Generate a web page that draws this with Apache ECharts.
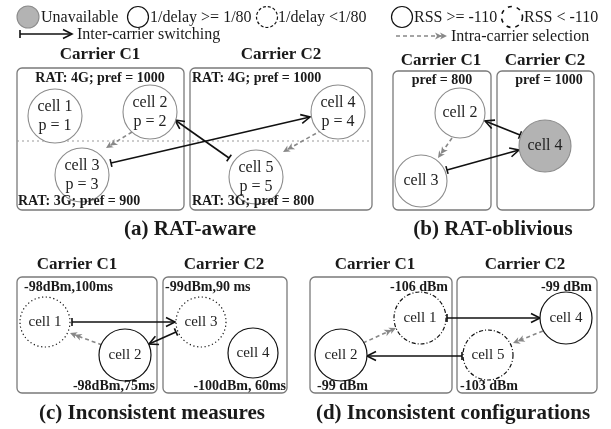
<!DOCTYPE html>
<html>
<head>
<meta charset="utf-8">
<script src="https://cdn.jsdelivr.net/npm/echarts@6/dist/echarts.min.js"></script>
<style>
html, body { margin: 0; padding: 0; background: #fff; }
#main { width: 611px; height: 429px; }
</style>
</head>
<body>
<div id="main"></div>
<script>
// cells: [x, y, radius, label, kind]
var legendCells = [
    [28, 17, 11, '', 'unavail'],
    [138, 17, 10.5, '', 'solid'],
    [267, 17, 10.5, '', 'dashed'],
    [402, 17, 10.5, '', 'solid'],
    [512, 17, 10.5, '', 'dashwide']
];
var cellsA = [
    [55, 116, 27, 'cell 1\np = 1', 'gray'],
    [150, 112, 27, 'cell 2\np = 2', 'gray'],
    [82, 175, 27, 'cell 3\np = 3', 'gray'],
    [338, 112, 27, 'cell 4\np = 4', 'gray'],
    [256, 177, 27, 'cell 5\np = 5', 'gray']
];
var cellsB = [
    [460, 113, 25, 'cell 2', 'gray'],
    [421, 181, 26, 'cell 3', 'gray'],
    [545, 146, 26, 'cell 4', 'unavail']
];
var cellsC = [
    [45, 322, 25, 'cell 1', 'dotted'],
    [125, 355, 26, 'cell 2', 'solid'],
    [201, 322, 25, 'cell 3', 'dotted'],
    [253, 353, 25, 'cell 4', 'solid']
];
var cellsD = [
    [420, 318, 26, 'cell 1', 'dashdot'],
    [341, 355, 26, 'cell 2', 'solid'],
    [566, 318, 26, 'cell 4', 'solid'],
    [488, 355, 25, 'cell 5', 'dashdot']
];

// edges: [x1, y1, x2, y2, kind]
var legendEdges = [
    [20, 34, 72, 34, 'switch'],
    [396, 36, 447, 36, 'select']
];
var edgesA = [
    [17, 141, 372, 141, 'divider'],
    [229, 158, 175, 120, 'switch'],
    [111, 163, 310, 117, 'switch'],
    [132, 132, 106, 148, 'select'],
    [322, 130, 283, 152, 'select']
];
var edgesB = [
    [520, 135, 485, 121, 'switch'],
    [447, 170, 519, 150, 'switch'],
    [452, 138, 438, 158, 'select']
];
var edgesC = [
    [72, 322, 175, 322, 'switch'],
    [176, 332, 149, 344, 'switch'],
    [102, 345, 70, 333, 'select']
];
var edgesD = [
    [447, 318, 540, 318, 'switch'],
    [462, 356, 367, 356, 'switch'],
    [363, 343, 396, 328, 'select'],
    [543, 331, 513, 343, 'select']
];

// carrier boxes: [x1, y1, x2, y2]
var boxes = [
    [17, 68, 184, 210], [190, 68, 372, 210],
    [393, 71, 491, 210], [497, 71, 594, 210],
    [17, 277, 157, 393], [163, 277, 287, 393],
    [310, 277, 452, 393], [457, 277, 597, 393]
];

// texts: [x, y, text, style, align]
var legendTexts = [
    [41, 18, 'Unavailable', 'legend', 'left'],
    [150, 18, '1/delay >= 1/80', 'legend', 'left'],
    [278, 18, '1/delay <1/80', 'legend', 'left'],
    [414, 18, 'RSS >= -110', 'legend', 'left'],
    [524, 18, 'RSS < -110', 'legend', 'left'],
    [77, 35, 'Inter-carrier switching', 'legend', 'left'],
    [451, 37, 'Intra-carrier selection', 'legend', 'left']
];
var carrierTexts = [
    [100, 55, 'Carrier C1', 'carrier', 'center'],
    [281, 55, 'Carrier C2', 'carrier', 'center'],
    [441, 61, 'Carrier C1', 'carrier', 'center'],
    [545, 61, 'Carrier C2', 'carrier', 'center'],
    [77, 265, 'Carrier C1', 'carrier', 'center'],
    [224, 265, 'Carrier C2', 'carrier', 'center'],
    [375, 265, 'Carrier C1', 'carrier', 'center'],
    [525, 265, 'Carrier C2', 'carrier', 'center']
];
var configTexts = [
    [100, 78, 'RAT: 4G; pref = 1000', 'label', 'center'],
    [192, 78, 'RAT: 4G; pref = 1000', 'label', 'left'],
    [18, 201, 'RAT: 3G; pref = 900', 'label', 'left'],
    [192, 201, 'RAT: 3G; pref = 800', 'label', 'left'],
    [442, 80, 'pref = 800', 'label', 'center'],
    [549, 80, 'pref = 1000', 'label', 'center'],
    [24, 287, '-98dBm,100ms', 'label', 'left'],
    [165, 287, '-99dBm,90 ms', 'label', 'left'],
    [155, 386, '-98dBm,75ms', 'label', 'right'],
    [286, 386, '-100dBm, 60ms', 'label', 'right'],
    [448, 287, '-106 dBm', 'label', 'right'],
    [592, 287, '-99 dBm', 'label', 'right'],
    [317, 386, '-99 dBm', 'label', 'left'],
    [460, 386, '-103 dBm', 'label', 'left']
];
var panelTitles = [
    [190, 230, '(a) RAT-aware', 'title', 'center'],
    [493, 230, '(b) RAT-oblivious', 'title', 'center'],
    [152, 414, '(c) Inconsistent measures', 'title', 'center'],
    [453, 414, '(d) Inconsistent configurations', 'title', 'center']
];

var allCells = legendCells.concat(cellsA, cellsB, cellsC, cellsD);
var allEdges = legendEdges.concat(edgesA, edgesB, edgesC, edgesD);
var allTexts = legendTexts.concat(carrierTexts, configTexts, panelTitles);

var serif = '"Liberation Serif", "DejaVu Serif", serif';
var fonts = {
    legend: '16px ' + serif,
    carrier: 'bold 17px ' + serif,
    label: 'bold 14px ' + serif,
    title: 'bold 21px ' + serif
};
var cellStyles = {
    gray: { fill: '#fff', stroke: '#8c8c8c', lineWidth: 1.1, lineDash: null },
    unavail: { fill: '#b3b3b3', stroke: '#8c8c8c', lineWidth: 1.1, lineDash: null },
    solid: { fill: '#fff', stroke: '#111', lineWidth: 1.2, lineDash: null },
    dashed: { fill: '#fff', stroke: '#111', lineWidth: 1.2, lineDash: [3, 2] },
    dashwide: { fill: '#fff', stroke: '#111', lineWidth: 1.6, lineDash: [4, 5] },
    dotted: { fill: '#fff', stroke: '#111', lineWidth: 1.2, lineDash: [1.2, 2.6] },
    dashdot: { fill: '#fff', stroke: '#111', lineWidth: 1.2, lineDash: [4, 2, 1, 2] }
};

function renderBox(params, api) {
    var b = boxes[params.dataIndex];
    var p1 = api.coord([b[0], b[1]]);
    var p2 = api.coord([b[2], b[3]]);
    return {
        type: 'rect',
        shape: { x: p1[0], y: p1[1], width: p2[0] - p1[0], height: p2[1] - p1[1], r: 5 },
        style: { fill: '#fff', stroke: '#7a7a7a', lineWidth: 1.3 }
    };
}

function renderCell(params, api) {
    var c = allCells[params.dataIndex];
    var p = api.coord([c[0], c[1]]);
    var r = api.size([c[2], 0])[0];
    var st = cellStyles[c[4]];
    var big = params.dataIndex >= legendCells.length + cellsA.length + cellsB.length ? 15 : 16;
    return {
        type: 'group',
        children: [{
            type: 'circle',
            shape: { cx: p[0], cy: p[1], r: r },
            style: { fill: st.fill, stroke: st.stroke, lineWidth: st.lineWidth, lineDash: st.lineDash }
        }, {
            type: 'text',
            style: {
                x: p[0], y: p[1], text: c[3], fill: '#222',
                font: big + 'px ' + serif, align: 'center', verticalAlign: 'middle',
                lineHeight: 19
            }
        }]
    };
}

function renderEdge(params, api) {
    var e = allEdges[params.dataIndex];
    var a = api.coord([e[0], e[1]]);
    var b = api.coord([e[2], e[3]]);
    var dx = b[0] - a[0], dy = b[1] - a[1];
    var len = Math.sqrt(dx * dx + dy * dy);
    var ux = dx / len, uy = dy / len, nx = -uy, ny = ux;
    var kids = [];
    if (e[4] === 'divider') {
        kids.push({
            type: 'line', shape: { x1: a[0], y1: a[1], x2: b[0], y2: b[1] },
            style: { stroke: '#999', lineWidth: 1, lineDash: [2, 3] }
        });
    } else if (e[4] === 'switch') {
        kids.push({
            type: 'line', shape: { x1: a[0], y1: a[1], x2: b[0], y2: b[1] },
            style: { stroke: '#111', lineWidth: 1.6 }
        });
        kids.push({
            type: 'line',
            shape: { x1: a[0] + nx * 4, y1: a[1] + ny * 4, x2: a[0] - nx * 4, y2: a[1] - ny * 4 },
            style: { stroke: '#111', lineWidth: 1.6 }
        });
        kids.push({
            type: 'polyline',
            shape: { points: [
                [b[0] - ux * 9 + nx * 4.5, b[1] - uy * 9 + ny * 4.5],
                [b[0], b[1]],
                [b[0] - ux * 9 - nx * 4.5, b[1] - uy * 9 - ny * 4.5]
            ] },
            style: { stroke: '#111', lineWidth: 1.6, fill: null }
        });
    } else {
        kids.push({
            type: 'line', shape: { x1: a[0], y1: a[1], x2: b[0] - ux * 3, y2: b[1] - uy * 3 },
            style: { stroke: '#888', lineWidth: 1.6, lineDash: [4, 3] }
        });
        [0, 5].forEach(function (off) {
            var tx = b[0] - ux * off, ty = b[1] - uy * off;
            kids.push({
                type: 'polygon',
                shape: { points: [
                    [tx, ty],
                    [tx - ux * 7 + nx * 3.5, ty - uy * 7 + ny * 3.5],
                    [tx - ux * 5, ty - uy * 5],
                    [tx - ux * 7 - nx * 3.5, ty - uy * 7 - ny * 3.5]
                ] },
                style: { fill: '#888' }
            });
        });
    }
    return { type: 'group', children: kids };
}

function renderText(params, api) {
    var t = allTexts[params.dataIndex];
    var p = api.coord([t[0], t[1]]);
    return {
        type: 'text',
        style: {
            x: p[0], y: p[1], text: t[2], fill: '#1a1a1a',
            font: fonts[t[3]], align: t[4], verticalAlign: 'middle'
        }
    };
}

var myChart = echarts.init(document.getElementById('main'));
var option = {
    backgroundColor: '#fff',
    animation: false,
    grid: { left: 0, right: 0, top: 0, bottom: 0 },
    xAxis: { type: 'value', min: 0, max: 611, show: false },
    yAxis: { type: 'value', min: 0, max: 429, inverse: true, show: false },
    series: [{
        type: 'custom',
        clip: false,
        renderItem: renderBox,
        data: boxes.map(function (b) { return [b[0], b[1], b[2], b[3]]; }),
        encode: { x: [0, 2], y: [1, 3] },
        z: 1
    }, {
        type: 'custom',
        clip: false,
        renderItem: renderEdge,
        data: allEdges.map(function (e) { return [e[0], e[1], e[2], e[3]]; }),
        encode: { x: [0, 2], y: [1, 3] },
        z: 2
    }, {
        type: 'custom',
        clip: false,
        renderItem: renderCell,
        data: allCells.map(function (c) { return [c[0], c[1]]; }),
        encode: { x: 0, y: 1 },
        z: 3
    }, {
        type: 'custom',
        clip: false,
        renderItem: renderText,
        data: allTexts.map(function (t) { return [t[0], t[1]]; }),
        encode: { x: 0, y: 1 },
        z: 4
    }]
};
myChart.setOption(option);
window.addEventListener('resize', function () {
    myChart.resize();
});
</script>
</body>
</html>
